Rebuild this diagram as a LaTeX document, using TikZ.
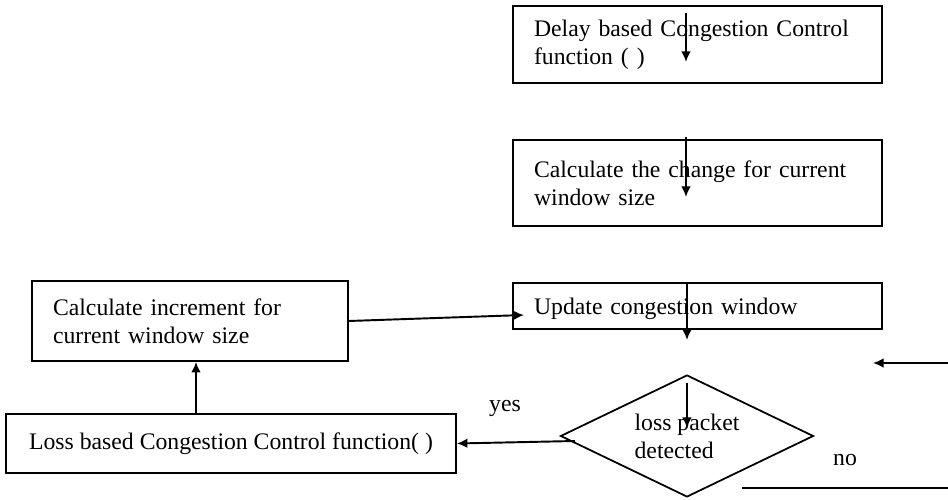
\documentclass[tikz,border=0pt]{standalone}
\usepackage{fontspec}
\setmainfont{Liberation Serif}
\usetikzlibrary{shapes.geometric,arrows.meta}

\begin{document}
\begin{tikzpicture}[x=0.02cm,y=-0.02cm,
	every node/.style={font=\fontsize{13.5}{15.9}\selectfont},
	block/.style={draw,rectangle,line width=1pt,align=left,inner xsep=0.42cm,inner ysep=0pt},
	decision/.style={draw,diamond,line width=1pt,aspect=2,inner sep=0pt,align=left,minimum width=5.06cm,minimum height=2.44cm},
	arr/.style={-{Latex[length=6pt,width=5.5pt]},line width=1.1pt},
	bare/.style={line width=1.1pt}]
	\useasboundingbox (0,0) rectangle (948,500);

	\node[block,text width=6.54cm,minimum height=1.54cm] (delay) at (697.5,44.5) {Delay based Congestion Control\\function ( )};
	\node[block,text width=6.54cm,minimum height=1.72cm] (change) at (697.5,183) {Calculate the change for current\\window size};
	\node[block,text width=6.54cm,minimum height=0.92cm,text height=0.46cm,text depth=0.1cm] (update) at (697.5,306) {Update congestion window};
	\node[block,text width=5.48cm,minimum height=1.6cm] (incr) at (190,321) {Calculate increment for\\current window size};
	\node[block,minimum width=9cm,minimum height=1.18cm] (loss) at (231,443.5) {Loss based Congestion Control function( )};
	\node[decision] (lossdet) at (687,436) {loss packet\\detected};
	\node[anchor=base] (yes) at (505,412) {yes};
	\node[anchor=base] (no) at (845,465) {no};

	% loose arrow ends
	\coordinate (d1) at (686,13);
	\coordinate (d2) at (686,62);
	\coordinate (c1) at (686,137);
	\coordinate (c2) at (686,197);
	\coordinate (u0) at (524,315);
	\coordinate (u1) at (687,283);
	\coordinate (u2) at (687,340);
	\coordinate (p1) at (687,383);
	\coordinate (p2) at (687,428);
	\coordinate (y1) at (575,441);
	\coordinate (n1) at (948,363);
	\coordinate (n2) at (873,363);
	\coordinate (b1) at (742,488);
	\coordinate (b2) at (948,488);

	\draw[arr] (d1) -- (d2);
	\draw[arr] (c1) -- (c2);
	\draw[arr] (incr.east) -- (u0);
	\draw[arr] (loss.north -| 196,0) -- (incr.south -| 196,0);
	\draw[arr] (u1) -- (u2);
	\draw[arr] (p1) -- (p2);
	\draw[arr] (y1) -- (loss.east);
	\draw[arr] (n1) -- (n2);
	\draw[bare] (b1) -- (b2);
\end{tikzpicture}
\end{document}
